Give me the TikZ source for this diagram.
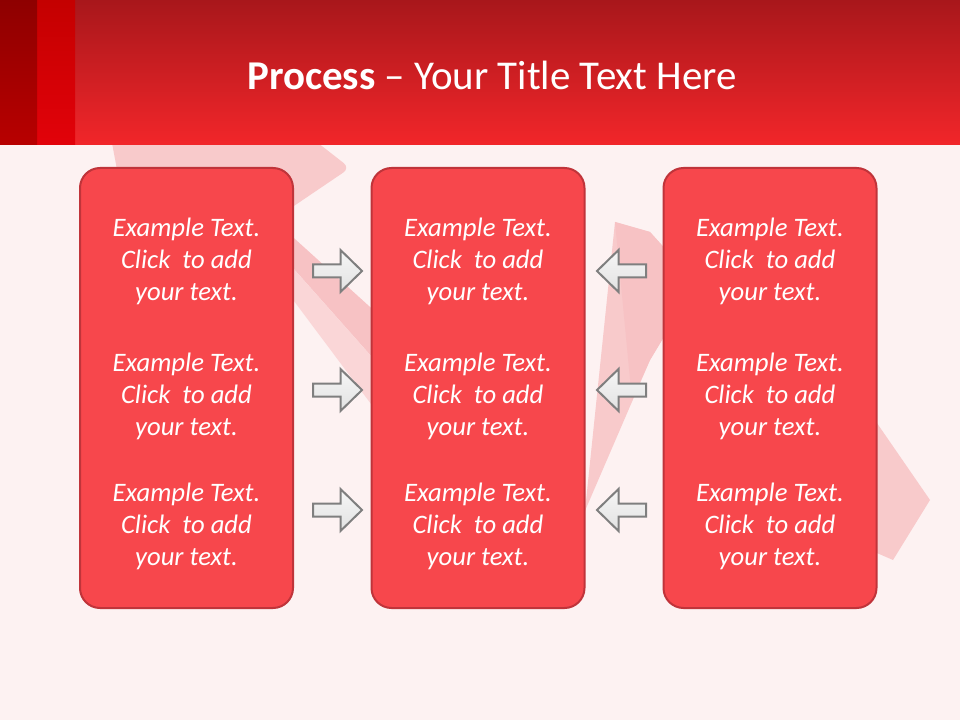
\documentclass[tikz,border=0pt]{standalone}
\usepackage{fontspec}
\setmainfont{Carlito}
\definecolor{bodybg}{HTML}{FDF2F2}
\definecolor{hdtop}{HTML}{A8171B}
\definecolor{hdbot}{HTML}{F2262A}
\definecolor{stripAtop}{HTML}{8E0000}
\definecolor{stripAbot}{HTML}{B80000}
\definecolor{stripBtop}{HTML}{C40000}
\definecolor{stripBbot}{HTML}{E2020A}
\definecolor{bandA}{HTML}{F8CACB}
\definecolor{bandDark}{HTML}{F7C2C4}
\definecolor{bandLight}{HTML}{FAD6D7}
\definecolor{boxfill}{HTML}{F7474C}
\definecolor{boxline}{HTML}{C0343A}
\definecolor{arrline}{HTML}{7F7F7F}
\definecolor{arrtop}{HTML}{F6F6F6}
\definecolor{arrbot}{HTML}{E2E2E2}
\newcommand{\blocktext}{Example Text.\\Click\ \ to add\\your text.}
\tikzset{
  box/.style={draw=boxline, line width=1.5pt, fill=boxfill, rounded corners=15pt,
    minimum width=159.75pt, minimum height=330pt, inner sep=0pt},
  txt/.style={text=white, font=\fontsize{20}{24}\selectfont\itshape, align=center, inner sep=0pt},
  arrowshape/.style={draw=arrline, line width=1.5pt, top color=arrtop, bottom color=arrbot, line join=miter},
  titlestyle/.style={text=white, font=\fontsize{30.7}{34}\selectfont, inner sep=0pt},
  rarr/.pic={\path[arrowshape] (-24.5,-6.5) -- (3,-6.5) -- (3,-21) -- (24.5,0) -- (3,21) -- (3,6.5) -- (-24.5,6.5) -- cycle;},
  larr/.pic={\path[arrowshape] (24.5,-6.5) -- (-3,-6.5) -- (-3,-21) -- (-24.5,0) -- (-3,21) -- (-3,6.5) -- (24.5,6.5) -- cycle;}
}
\begin{document}
\begin{tikzpicture}[x=0.75pt,y=-0.75pt]
\useasboundingbox (0,0) rectangle (960,720);
% background
\fill[bodybg] (0,0) rectangle (960,720);
% faint ribbon
\fill[bandA] (112,143) -- (318,143) [rounded corners=6pt]-- (350,168) [sharp corners]-- (285,212) -- (125,212) -- cycle;
\fill[bandDark] (285,230) -- (380,316) -- (380,366) -- (285,259) -- cycle;
\fill[bandLight] (285,259) -- (380,366) -- (380,416) -- (285,289) -- cycle;
\fill[bandA] (578,578) -- (615,222) -- (650,232) -- (668,252) -- (668,330) -- (650,360) -- (578,527) -- cycle;
\fill[bandDark] (615,222) -- (650,232) -- (668,252) -- (668,330) -- (650,360) -- (632,400) -- cycle;
\fill[bandA] (870,413) -- (930,500) -- (893,560) -- (870,550) -- cycle;
% header
\shade[top color=hdtop, bottom color=hdbot] (0,0) rectangle (960,145);
\shade[top color=stripBtop, bottom color=stripBbot] (37,0) rectangle (75,145);
\shade[top color=stripAtop, bottom color=stripAbot] (0,0) rectangle (37,145);
\node[titlestyle] (title) at (492,75) {\textbf{Process} – Your Title Text Here};
% boxes
\node[box] (b1) at (186.5,388) {};
\node[box] (b2) at (478,388) {};
\node[box] (b3) at (770,388) {};
% texts
\foreach \cx/\bn in {186.5/1,478/2,770/3}{
  \foreach \cy/\rn in {261/1,396/2,526/3}{
    \node[txt] (t\bn\rn) at (\cx,\cy) {\blocktext};
  }
}
% arrows
\foreach \cy in {271,390,510}{
  \pic at (337.5,\cy) {rarr};
  \pic at (621.5,\cy) {larr};
}
\end{tikzpicture}
\end{document}
